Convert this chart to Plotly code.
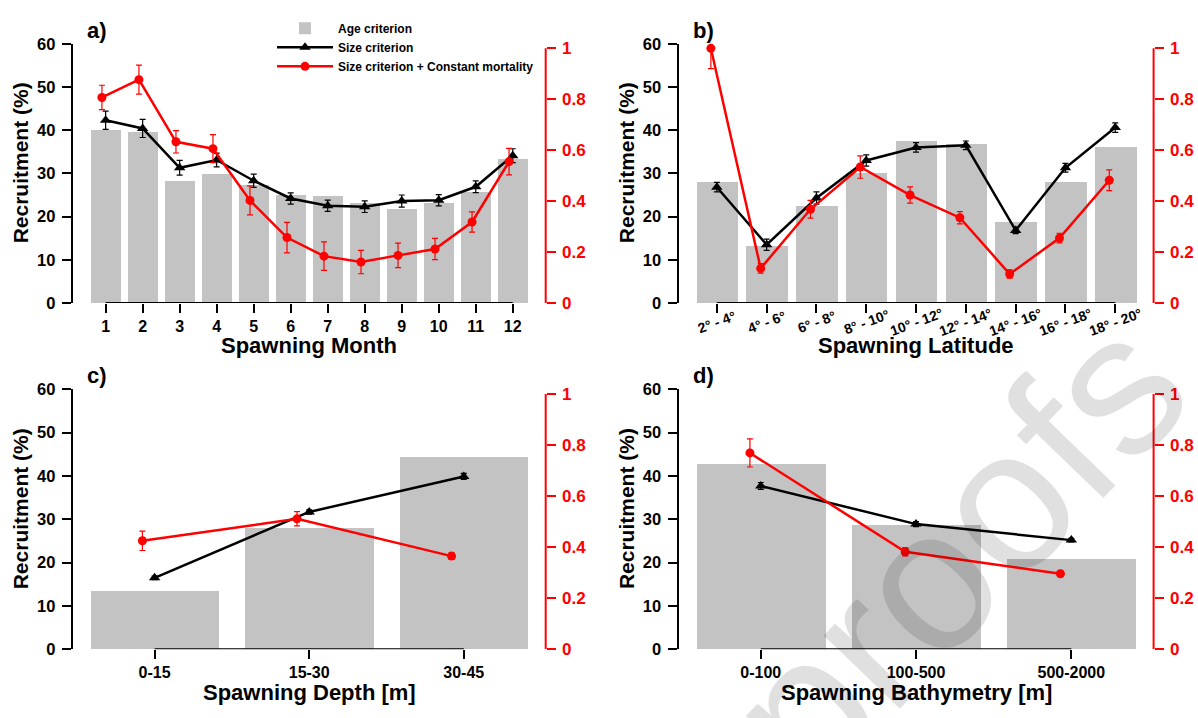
import plotly.graph_objects as go

# ---------------- data ----------------
months = ["1", "2", "3", "4", "5", "6", "7", "8", "9", "10", "11", "12"]
age_month = [40.1, 39.7, 28.4, 29.9, 27.3, 25.1, 24.9, 23.3, 21.8, 23.3, 25.7, 33.5]
size_month = [42.3, 40.4, 31.3, 33.1, 28.3, 24.2, 22.5, 22.3, 23.6, 23.8, 26.9, 34.1]
size_month_err = [2.1, 2.1, 1.7, 1.6, 1.55, 1.3, 1.3, 1.35, 1.4, 1.3, 1.35, 1.6]
mort_month = [0.807, 0.877, 0.633, 0.606, 0.403, 0.257, 0.184, 0.161, 0.187, 0.212, 0.318, 0.555]
mort_month_err = [0.048, 0.057, 0.044, 0.055, 0.057, 0.06, 0.056, 0.046, 0.048, 0.042, 0.04, 0.052]

latitudes = ["2° - 4°", "4° - 6°", "6° - 8°", "8° - 10°", "10° - 12°",
             "12° - 14°", "14° - 16°", "16° - 18°", "18° - 20°"]
age_lat = [28.1, 13.3, 22.4, 30.2, 37.6, 36.8, 18.9, 28.0, 36.1]
size_lat = [26.8, 13.5, 24.3, 33.0, 36.0, 36.5, 16.8, 31.3, 40.6]
size_lat_err = [1.1, 1.3, 1.4, 1.3, 1.1, 1.0, 0.75, 1.0, 1.1]
mort_lat = [1.0, 0.136, 0.368, 0.534, 0.424, 0.335, 0.114, 0.255, 0.482]
mort_lat_err_plus = [0.025, 0.019, 0.035, 0.044, 0.032, 0.024, 0.016, 0.019, 0.041]
mort_lat_err_minus = [0.08, 0.019, 0.035, 0.044, 0.032, 0.024, 0.016, 0.019, 0.041]

depths = ["0-15", "15-30", "30-45"]
age_depth = [13.4, 28.0, 44.4]
size_depth = [16.5, 31.7, 39.9]
size_depth_err = [0.4, 0.5, 0.7]
mort_depth = [0.425, 0.511, 0.365]
mort_depth_err = [0.038, 0.028, 0.013]

bathy = ["0-100", "100-500", "500-2000"]
age_bathy = [42.8, 28.7, 20.7]
size_bathy = [37.7, 28.9, 25.2]
size_bathy_err = [0.8, 0.6, 0.4]
mort_bathy = [0.769, 0.382, 0.296]
mort_bathy_err = [0.055, 0.016, 0.01]

# ---------------- style ----------------
W, H = 1198, 718
GRAY = "#c3c3c3"
RED = "#ff0000"
FONT = "Liberation Sans, Arial, sans-serif"

def px_x(p):
    return p / W

def px_y(p):
    return 1 - p / H

xdom_left = [px_x(72.7), px_x(545.7)]
xdom_right = [px_x(678.5), px_x(1153.6)]
ydom_top = [px_y(302.0), px_y(35.7)]
ydom_bot = [px_y(657.7), px_y(390.7)]
Y2TOP = 1.018

panels = [
    dict(cats=months, age=age_month, size=size_month, size_err=size_month_err,
         mort=mort_month, mort_plus=mort_month_err, mort_minus=mort_month_err,
         xdom=xdom_left, ydom=ydom_top, title="Spawning Month", letter="a)",
         red_shift=-0.1, rotate=False),
    dict(cats=latitudes, age=age_lat, size=size_lat, size_err=size_lat_err,
         mort=mort_lat, mort_plus=mort_lat_err_plus, mort_minus=mort_lat_err_minus,
         xdom=xdom_right, ydom=ydom_top, title="Spawning Latitude", letter="b)",
         red_shift=-0.12, rotate=True),
    dict(cats=depths, age=age_depth, size=size_depth, size_err=size_depth_err,
         mort=mort_depth, mort_plus=mort_depth_err, mort_minus=mort_depth_err,
         xdom=xdom_left, ydom=ydom_bot, title="Spawning Depth [m]", letter="c)",
         red_shift=-0.079, rotate=False),
    dict(cats=bathy, age=age_bathy, size=size_bathy, size_err=size_bathy_err,
         mort=mort_bathy, mort_plus=mort_bathy_err, mort_minus=mort_bathy_err,
         xdom=xdom_right, ydom=ydom_bot, title="Spawning Bathymetry [m]", letter="d)",
         red_shift=-0.07, rotate=False),
]

fig = go.Figure()
layout = dict(
    width=W, height=H, margin=dict(l=0, r=0, t=0, b=0),
    paper_bgcolor="white", plot_bgcolor="white",
    font=dict(family=FONT, color="black"),
    bargap=0,
    legend=dict(x=px_x(272), y=px_y(5), xanchor="left", yanchor="top",
                bgcolor="rgba(0,0,0,0)", borderwidth=0,
                font=dict(family=FONT, size=12, weight="bold", color="black"),
                itemwidth=56, tracegroupgap=0, traceorder="normal"),
    showlegend=True,
)
annotations = []
shapes = []

for k, p in enumerate(panels):
    n = len(p["cats"])
    idx = list(range(n))
    xa = "x" if k == 0 else f"x{k+1}"
    ya = "y" if k == 0 else f"y{k+1}"
    yr = f"y{k+5}"
    xkey = "xaxis" if k == 0 else f"xaxis{k+1}"
    ykey = "yaxis" if k == 0 else f"yaxis{k+1}"
    yrkey = f"yaxis{k+5}"
    ext = 0.89 if n == 12 else (0.77 if n == 9 else 0.53)

    fig.add_trace(go.Bar(x=idx, y=p["age"], width=0.833, marker=dict(color=GRAY, line=dict(width=0)),
                         name="Age criterion", showlegend=(k == 0), xaxis=xa, yaxis=ya))
    fig.add_trace(go.Scatter(x=idx, y=p["size"], mode="lines+markers",
                             line=dict(color="black", width=2.5),
                             marker=dict(symbol="triangle-up", size=10, color="black"),
                             error_y=dict(type="data", array=p["size_err"], color="black",
                                          thickness=1.2, width=3),
                             name="Size criterion", showlegend=(k == 0), cliponaxis=False,
                             xaxis=xa, yaxis=ya))
    fig.add_trace(go.Scatter(x=[i + p["red_shift"] for i in idx], y=p["mort"], mode="lines+markers",
                             line=dict(color=RED, width=2.5),
                             marker=dict(symbol="circle", size=9, color=RED),
                             error_y=dict(type="data", array=p["mort_plus"], arrayminus=p["mort_minus"],
                                          symmetric=False, color=RED, thickness=1.2, width=3),
                             name="Size criterion + Constant mortality", showlegend=(k == 0),
                             cliponaxis=False, xaxis=xa, yaxis=yr))

    layout[xkey] = dict(domain=p["xdom"], anchor=ya, range=[-ext, n - 1 + ext],
                        tickmode="array", tickvals=idx, ticktext=p["cats"],
                        showticklabels=not p["rotate"],
                        ticks="outside", ticklen=9, tickwidth=2, tickcolor="black",
                        showline=False, showgrid=False, zeroline=False,
                        tickfont=dict(family=FONT, size=16, weight="bold", color="black"),
                        ticklabelstandoff=0)
    layout[ykey] = dict(domain=p["ydom"], anchor=xa, range=[0, 60],
                        tickmode="array", tickvals=[0, 10, 20, 30, 40, 50, 60],
                        ticks="outside", ticklen=9, tickwidth=2, tickcolor="black",
                        showline=True, linewidth=2, linecolor="black",
                        showgrid=False, zeroline=False,
                        tickfont=dict(family=FONT, size=16.5, weight="bold", color="black"),
                        ticklabelstandoff=3)
    layout[yrkey] = dict(domain=p["ydom"], anchor=xa, overlaying=ya, side="right",
                         range=[0, Y2TOP], tickmode="array",
                         tickvals=[0, 0.2, 0.4, 0.6, 0.8, 1.0],
                         ticktext=["0", "0.2", "0.4", "0.6", "0.8", "1"],
                         ticks="outside", ticklen=9, tickwidth=2, tickcolor=RED,
                         showline=False, showgrid=False, zeroline=False,
                         tickfont=dict(family=FONT, size=17, weight="bold", color=RED),
                         ticklabelstandoff=3)

    # x axis line from first to last tick (R style)
    shapes.append(dict(type="line", xref=xa, yref=ya, x0=0, x1=n - 1, y0=0, y1=0,
                       line=dict(color="black", width=2)))
    # right red axis line spanning 0..1
    shapes.append(dict(type="line", xref=f"{xa} domain", yref=yr, x0=1, x1=1, y0=0, y1=1,
                       line=dict(color=RED, width=2)))

    x0p, x1p = p["xdom"]
    y0p, y1p = p["ydom"]
    top_px = (1 - y1p) * H
    bot_px = (1 - y0p) * H
    left_px = x0p * W
    cx = (x0p + x1p) / 2
    # panel letter
    annotations.append(dict(text=p["letter"], xref="paper", yref="paper",
                            x=px_x(left_px + 12), y=px_y(top_px - 14), xanchor="left", yanchor="middle",
                            showarrow=False, font=dict(family=FONT, size=22, weight="bold")))
    # y title
    annotations.append(dict(text="Recruitment (%)", xref="paper", yref="paper",
                            x=px_x(left_px - 52), y=px_y((top_px + bot_px) / 2 - 11),
                            xanchor="center", yanchor="middle", textangle=-90, showarrow=False,
                            font=dict(family=FONT, size=21, weight="bold")))
    # x title
    annotations.append(dict(text=p["title"], xref="paper", yref="paper",
                            x=cx, y=px_y(bot_px + 44), xanchor="center", yanchor="middle",
                            showarrow=False, font=dict(family=FONT, size=22, weight="bold")))
    if p["rotate"]:
        for i, lab in enumerate(p["cats"]):
            annotations.append(dict(text=lab, xref=xa, yref="paper", x=i, y=px_y(bot_px + 19),
                                    xanchor="center", yanchor="middle", textangle=-20,
                                    showarrow=False,
                                    font=dict(family=FONT, size=14, weight="bold")))

# watermark
annotations.append(dict(text="proofs", xref="paper", yref="paper", x=px_x(956), y=px_y(556),
                        xanchor="center", yanchor="middle", textangle=-46, showarrow=False,
                        font=dict(family=FONT, size=200, color="rgba(0,0,0,0.12)")))

layout["annotations"] = annotations
layout["shapes"] = shapes
fig.update_layout(**layout)

fig.write_html("out.html", config={"displayModeBar": False},
               post_script="document.body.style.margin='0';document.body.style.overflow='hidden';")
